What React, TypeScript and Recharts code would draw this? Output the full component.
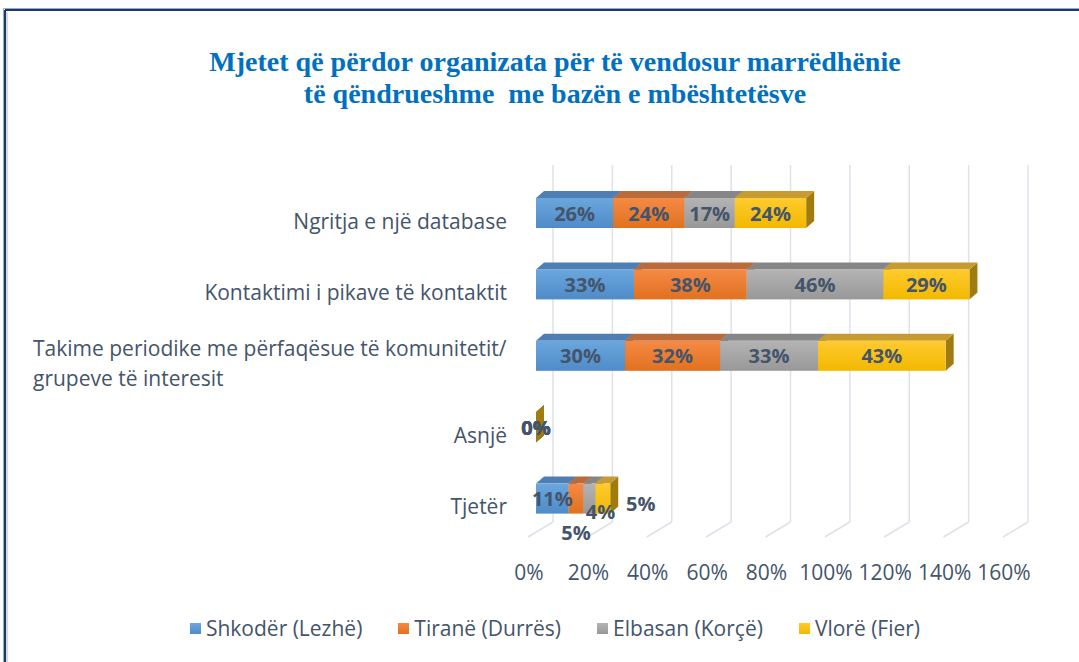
import {
  BarChart,
  Bar,
  XAxis,
  YAxis,
  CartesianGrid,
  LabelList,
} from "recharts";

// Categories (top to bottom) and share per region
const categories = [
  "Ngritja e një database",
  "Kontaktimi i pikave të kontaktit",
  "Takime periodike me përfaqësue të komunitetit/ grupeve të interesit",
  "Asnjë",
  "Tjetër",
];
const shkoder = [0.26, 0.33, 0.3, 0, 0.11];
const tirane = [0.24, 0.38, 0.32, 0, 0.05];
const elbasan = [0.17, 0.46, 0.33, 0, 0.04];
const vlore = [0.24, 0.29, 0.43, 0, 0.05];
const xTicks = [0, 0.2, 0.4, 0.6, 0.8, 1.0, 1.2, 1.4, 1.6];

const seriesNames = ["Shkodër (Lezhë)", "Tiranë (Durrës)", "Elbasan (Korçë)", "Vlorë (Fier)"];
const seriesKeys = ["shkoder", "tirane", "elbasan", "vlore"];

const data = categories.map((c, i) => ({
  category: c,
  shkoder: shkoder[i],
  tirane: tirane[i],
  elbasan: elbasan[i],
  vlore: vlore[i],
}));

// front / top / side colours for the 3D look
const palette = [
  { light: "#6BA7DD", dark: "#4E8BC8", top: "#4F7EB3", side: "#3D6796" },
  { light: "#F58A45", dark: "#E0711F", top: "#B96B3C", side: "#9E5526" },
  { light: "#B4B4B4", dark: "#989898", top: "#868686", side: "#6F6F6F" },
  { light: "#FFCB2E", dark: "#F2B800", top: "#C59B32", side: "#A07C10" },
];

const FONT = "'Open Sans', 'Noto Sans', sans-serif";
const TEXT = "#44546A";
const GRID = "#DDE1E8";

// the bars sit in front of the back wall
const SHIFT_X = -17;
const SHIFT_Y = 12;
const DEPTH_X = 8;
const DEPTH_Y = 7;

function Bar3D(props: any) {
  const { x, y, width, height, idx } = props;
  const c = palette[idx];
  const fx = x + SHIFT_X;
  const fy = y + SHIFT_Y;
  const w = Math.max(width || 0, 0);
  const h = height;
  return (
    <g>
      <polygon
        points={`${fx + w},${fy} ${fx + w + DEPTH_X},${fy - DEPTH_Y} ${fx + w + DEPTH_X},${fy + h - DEPTH_Y} ${fx + w},${fy + h}`}
        fill={c.side}
      />
      <polygon
        points={`${fx},${fy} ${fx + DEPTH_X},${fy - DEPTH_Y} ${fx + w + DEPTH_X},${fy - DEPTH_Y} ${fx + w},${fy}`}
        fill={c.top}
      />
      {w > 0 && <rect x={fx} y={fy} width={w} height={h} fill={`url(#front${idx})`} />}
    </g>
  );
}

// small segments of "Tjetër" get their labels pushed aside like in the original
const smallOffsets = [
  [0, 0],
  [0, 34],
  [11, 13],
  [38, 5],
];

function makeLabel(idx: number) {
  return (props: any) => {
    const { x, y, width, height, value, index } = props;
    let cx = x + SHIFT_X + Math.max(width, 0) / 2;
    let cy = y + SHIFT_Y + height / 2;
    if (categories[index] === "Tjetër") {
      cx += smallOffsets[idx][0];
      cy += smallOffsets[idx][1];
    }
    return (
      <text
        x={cx}
        y={cy}
        textAnchor="middle"
        dominantBaseline="central"
        fill={TEXT}
        fontFamily={FONT}
        fontWeight={700}
        fontSize={20}
      >
        {`${Math.round(value * 100)}%`}
      </text>
    );
  };
}

function CategoryTick(props: any) {
  const { x, y, payload } = props;
  const parts = String(payload.value).split("/ ");
  if (parts.length > 1) {
    return (
      <text fill={TEXT} fontFamily={FONT} fontSize={21}>
        <tspan x={33} y={y + 12}>{parts[0] + "/"}</tspan>
        <tspan x={33} y={y + 42}>{parts[1]}</tspan>
      </text>
    );
  }
  return (
    <text
      x={x - 46}
      y={y + 20}
      textAnchor="end"
      dominantBaseline="central"
      fill={TEXT}
      fontFamily={FONT}
      fontSize={21}
    >
      {payload.value}
    </text>
  );
}

function PercentTick(props: any) {
  const { x, y, payload } = props;
  return (
    <g>
      <line x1={x} y1={y} x2={x - 25} y2={y + 15} stroke={GRID} strokeWidth={1.5} />
      <text
        x={x - 24}
        y={y + 50}
        textAnchor="middle"
        dominantBaseline="central"
        fill={TEXT}
        fontFamily={FONT}
        fontSize={21}
      >
        {`${Math.round(payload.value * 100)}%`}
      </text>
    </g>
  );
}

export default function App() {
  return (
    <div
      style={{
        position: "fixed",
        left: 0,
        top: 0,
        width: 1079,
        height: 662,
        background: "#fff",
        overflow: "hidden",
      }}
    >
      {/* Title */}
      <div
        style={{
          position: "absolute",
          left: 0,
          top: 46,
          width: 1110,
          textAlign: "center",
          fontFamily: "'Liberation Serif', 'DejaVu Serif', serif",
          fontWeight: 700,
          fontSize: 28,
          lineHeight: "32px",
          color: "#0070C0",
        }}
      >
        Mjetet që përdor organizata për të vendosur marrëdhënie
        <br />
        të qëndrueshme&nbsp; me bazën e mbështetësve
      </div>

      <div style={{ position: "absolute", left: 0, top: 0 }}>
        <BarChart
          width={1079}
          height={662}
          data={data}
          layout="vertical"
          margin={{ top: 165, right: 51, bottom: 100, left: 0 }}
          barSize={30}
        >
          <defs>
            {palette.map((c, i) => (
              <linearGradient key={i} id={`front${i}`} x1="0" y1="0" x2="0" y2="1">
                <stop offset="0%" stopColor={c.light} />
                <stop offset="100%" stopColor={c.dark} />
              </linearGradient>
            ))}
          </defs>
          <CartesianGrid horizontal={false} stroke={GRID} strokeWidth={1.5} />
          <XAxis
            type="number"
            domain={[0, 1.6]}
            ticks={xTicks}
            axisLine={false}
            tickLine={false}
            tickSize={0}
            tickMargin={0}
            height={40}
            tick={<PercentTick />}
            interval={0}
          />
          <YAxis
            type="category"
            dataKey="category"
            width={553}
            axisLine={false}
            tickLine={false}
            tickSize={0}
            tickMargin={0}
            tick={<CategoryTick />}
            interval={0}
          />
          {seriesKeys.map((k, i) => (
            <Bar
              key={k}
              dataKey={k}
              stackId="a"
              isAnimationActive={false}
              shape={(p: any) => <Bar3D {...p} idx={i} />}
            >
              <LabelList dataKey={k} content={makeLabel(i)} />
            </Bar>
          ))}
        </BarChart>
      </div>

      {/* Legend */}
      <div
        style={{
          position: "absolute",
          left: 0,
          top: 614,
          width: 1110,
          display: "flex",
          justifyContent: "center",
          gap: 36,
          fontFamily: FONT,
          fontSize: 21,
          color: TEXT,
        }}
      >
        {seriesNames.map((n, i) => (
          <span key={n} style={{ display: "flex", alignItems: "center", gap: 5 }}>
            <span
              style={{
                display: "inline-block",
                width: 11,
                height: 11,
                background: `linear-gradient(${palette[i].light}, ${palette[i].dark})`,
              }}
            />
            {n}
          </span>
        ))}
      </div>

      {/* frame */}
      <svg
        width={1079}
        height={662}
        style={{ position: "absolute", left: 0, top: 0, pointerEvents: "none" }}
      >
        <line x1={3.5} y1={8.5} x2={1079} y2={8.5} stroke="#8FAADC" strokeWidth={1} />
        <line x1={3.5} y1={8.5} x2={3.5} y2={662} stroke="#8FAADC" strokeWidth={1} />
        <line x1={5} y1={10} x2={1079} y2={10} stroke="#1F3864" strokeWidth={2} />
        <line x1={5} y1={10} x2={5} y2={662} stroke="#1F3864" strokeWidth={2} />
        <line x1={7} y1={12} x2={7} y2={662} stroke="rgba(0,0,0,0.15)" strokeWidth={2} />
      </svg>
    </div>
  );
}
